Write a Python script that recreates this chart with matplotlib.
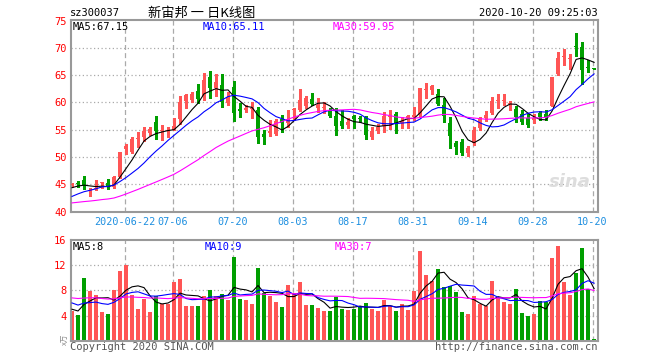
import numpy as np
import matplotlib
matplotlib.use("Agg")
import matplotlib.pyplot as plt

# daily K data for sz300037, 2020-06-09 .. 2020-10-20 (88 sessions)
opens = [44.9, 45.2, 45.8, 43.7, 44.2, 45.3, 45.3, 44.6, 46.4, 51.5,
         51.0, 53.3, 53.6, 54.4, 56.4, 54.7, 54.7, 55.0, 56.9, 60.3,
         60.5, 62.1, 61.1, 64.7, 62.6, 63.2, 59.9, 62.8, 58.8, 58.6,
         58.8, 58.7, 54.2, 54.4, 54.2, 57.0, 56.2, 58.6, 58.6, 59.4,
         60.6, 59.0, 58.9, 58.5, 57.5, 56.6, 55.9, 57.5, 57.2, 57.3,
         53.6, 54.7, 55.6, 57.3, 57.9, 56.2, 57.1, 57.3, 57.7, 62.2,
         62.3, 61.6, 59.5, 56.3, 52.5, 52.8, 50.8, 52.6, 55.3, 57.2,
         58.1, 60.2, 60.3, 59.7, 58.8, 57.8, 57.1, 56.7, 58.0, 57.9,
         59.4, 65.2, 68.3, 68.0, 70.4, 70.1, 66.4, 66.2]
highs = [45.3, 45.6, 46.5, 44.3, 45.8, 45.5, 45.9, 46.6, 51.0, 52.4,
         53.6, 54.6, 55.6, 55.5, 57.6, 55.9, 55.5, 57.1, 61.2, 61.6,
         62.0, 63.3, 65.4, 65.8, 65.3, 65.3, 62.0, 64.0, 59.9, 59.6,
         60.1, 59.2, 55.0, 56.8, 57.0, 57.7, 58.6, 58.9, 62.5, 61.2,
         61.7, 60.9, 60.0, 59.0, 59.0, 58.6, 57.1, 57.7, 57.6, 57.6,
         55.5, 56.0, 58.3, 58.6, 58.3, 57.3, 57.7, 59.1, 62.6, 63.5,
         63.2, 62.4, 60.8, 57.3, 52.9, 53.3, 52.0, 55.6, 57.3, 58.5,
         61.0, 61.5, 61.5, 60.3, 59.4, 58.6, 57.9, 57.9, 58.5, 58.7,
         64.7, 69.2, 69.7, 68.9, 72.8, 71.0, 67.8, 66.3]
lows = [44.5, 44.6, 44.1, 42.9, 43.9, 44.3, 44.2, 44.4, 46.2, 50.6,
        50.8, 51.8, 52.9, 54.0, 53.3, 53.1, 53.6, 54.9, 56.0, 58.9,
        60.0, 59.9, 60.5, 60.8, 61.1, 59.2, 59.6, 56.6, 57.3, 58.2,
        57.2, 52.6, 52.4, 53.9, 54.0, 54.6, 55.5, 56.7, 58.4, 59.0,
        59.5, 58.3, 58.0, 57.4, 54.1, 55.4, 55.3, 55.3, 56.4, 53.4,
        53.4, 54.5, 54.6, 55.1, 54.5, 55.4, 55.4, 56.7, 57.5, 60.8,
        61.5, 59.6, 56.4, 51.6, 50.6, 50.4, 50.2, 52.3, 55.0, 56.6,
        57.9, 59.0, 59.6, 58.7, 56.5, 56.0, 55.5, 56.2, 56.7, 56.8,
        59.3, 65.1, 66.8, 66.2, 68.5, 63.4, 65.5, 66.1]
closes = [45.0, 45.1, 44.8, 43.8, 44.3, 45.4, 44.6, 46.4, 51.0, 52.1,
          53.3, 53.5, 54.8, 55.2, 54.7, 54.8, 54.8, 55.6, 60.1, 61.4,
          61.6, 60.6, 64.2, 62.6, 63.7, 60.0, 61.0, 58.1, 58.4, 59.0,
          59.0, 53.7, 53.6, 54.7, 56.6, 56.2, 57.0, 58.8, 60.4, 60.8,
          59.7, 59.6, 59.1, 57.6, 55.7, 55.7, 56.5, 56.9, 57.0, 54.0,
          54.7, 55.5, 57.5, 57.5, 56.1, 56.6, 57.5, 57.7, 62.6, 62.4,
          63.0, 59.7, 57.5, 53.9, 51.9, 50.7, 51.7, 55.0, 56.9, 57.7,
          60.3, 60.3, 60.4, 59.9, 57.4, 56.5, 55.9, 57.2, 57.4, 57.1,
          64.6, 68.1, 68.4, 68.1, 70.2, 66.0, 66.3, 66.1]
vols = [4.75, 4.1, 10.0, 7.95, 7.3, 4.6, 4.3, 8.1, 11.1, 12.0,
        7.3, 5.07, 6.7, 4.6, 7.05, 5.8, 5.8, 9.4, 9.76, 5.55,
        5.45, 5.45, 7.15, 8.0, 7.15, 7.47, 6.4, 13.3, 6.7, 6.5,
        5.87, 11.5, 7.58, 7.05, 6.2, 5.3, 8.9, 7.63, 9.4, 5.6,
        5.6, 5.17, 4.75, 4.75, 6.9, 5.07, 4.9, 5.07, 5.55, 6.03,
        5.07, 4.75, 6.5, 5.55, 4.75, 5.87, 4.9, 7.95, 14.25, 10.5,
        9.55, 11.47, 8.6, 8.75, 7.8, 4.6, 4.27, 7.15, 5.87, 5.55,
        9.55, 6.83, 6.19, 5.87, 8.27, 4.43, 3.95, 4.27, 6.35, 6.19,
        13.07, 15.0, 9.39, 7.31, 10.83, 14.67, 8.27, 0.27]
# sessions before the window, only used to start the moving averages
hist_close = [41.5, 41.2, 40.8, 40.6, 41.0, 41.3, 41.0, 40.7, 40.4, 40.6,
              40.9, 41.2, 41.5, 41.3, 41.0, 40.8, 41.1, 41.3, 41.2, 40.9,
              40.5, 40.8, 41.2, 41.5, 42.0, 43.6, 44.0, 44.5, 44.9]
hist_vol = [7.0, 7.8, 6.5, 7.4, 8.2, 6.9, 7.1, 6.6, 7.5, 7.3,
            6.8, 7.6, 7.0, 6.4, 7.9, 7.2, 7.1, 6.9, 7.4, 7.4,
            7.5, 6.8, 7.2, 6.5, 7.0, 5.5, 4.8, 5.2, 4.75]
tick_idx = [9, 17, 27, 37, 47, 57, 67, 77, 87]
tick_lbl = ['2020-06-22', '07-06', '07-20', '08-03', '08-17', '08-31',
            '09-14', '09-28', '10-20']
# legend values as printed on the chart
price_ma_lbl = ['MA5:67.15', 'MA10:65.11', 'MA30:59.95']
vol_ma_lbl = ['MA5:8', 'MA10:9', 'MA30:7']

RED = '#ff5555'
GREEN = '#009f00'
GRID = '#aaaaaa'
MONO = 'DejaVu Sans Mono'
W, H = 660, 360


def ma(vals, hist, n):
    full = np.array(list(hist) + list(vals))
    return np.convolve(full, np.ones(n) / n, mode='valid')[-len(vals):]


def box(l, t, r, b):
    return [l / W, 1 - b / H, (r - l) / W, (b - t) / H]


o = np.array(opens); c = np.array(closes)
hi = np.array(highs); lo = np.array(lows); v = np.array(vols)
x = np.arange(len(c))
col = np.where(c >= o, RED, GREEN)

fig = plt.figure(figsize=(6.6, 3.6), dpi=100)
ax = fig.add_axes(box(70.7, 20, 597.7, 211.7))
axv = fig.add_axes(box(70.7, 240, 597.7, 340.7))

for a in (ax, axv):
    a.set_xlim(-0.22, 87.6)
    for s in a.spines.values():
        s.set_color('#999999'); s.set_linewidth(1.5)
    a.tick_params(length=0, pad=3)
    for t in tick_idx:
        a.axvline(t - 0.25, color=GRID, lw=0.9, ls=(0, (4, 2.5)), zorder=0)

# price panel
ax.set_ylim(40, 75.1)
for yv in range(45, 75, 5):
    ax.axhline(yv, color=GRID, lw=0.9, ls=(0, (1, 2)), zorder=0)
ax.vlines(x, lo, hi, colors=col, lw=0.9, antialiased=False, zorder=2)
ax.bar(x, np.maximum(np.abs(c - o), 0.2), 0.8, np.minimum(o, c),
       color=col, lw=0, antialiased=False, zorder=3)
ax.plot(x, ma(c, hist_close, 5), color='black', lw=0.8, zorder=4)
ax.plot(x, ma(c, hist_close, 10), color='blue', lw=0.8, zorder=4)
ax.plot(x, ma(c, hist_close, 30), color='magenta', lw=0.8, zorder=4)
ax.set_yticks(range(40, 80, 5))
ax.set_yticklabels([str(t) for t in range(40, 80, 5)], color='red',
                   family=MONO, fontsize=7.5)
ax.set_xticks([t - 0.25 for t in tick_idx])
ax.set_xticklabels(tick_lbl, color='#1e8fe0', family=MONO, fontsize=7.3)
ax.tick_params(axis='x', pad=4)

# volume panel
axv.set_ylim(0, 16)
for yv in (4, 8, 12):
    axv.axhline(yv, color=GRID, lw=0.9, ls=(0, (1, 2)), zorder=0)
axv.bar(x, v, 0.8, color=col, lw=0, antialiased=False, zorder=2)
axv.plot(x, ma(v, hist_vol, 5), color='black', lw=0.8, zorder=4)
axv.plot(x, ma(v, hist_vol, 10), color='blue', lw=0.8, zorder=4)
axv.plot(x, ma(v, hist_vol, 30), color='magenta', lw=0.8, zorder=4)
axv.set_yticks([4, 8, 12, 16])
axv.set_yticklabels(['4', '8', '12', '16'], color='red', family=MONO,
                    fontsize=7.5)
axv.set_xticks([])


def ftext(px, py, s, **kw):
    fig.text(px / W, 1 - py / H, s, va='center', **kw)


# header
ftext(70, 13, 'sz300037', family=MONO, fontsize=7.5, color='black')
ftext(148, 13, '新宙邦 一 日K线图', family=['Noto Sans CJK SC', 'DejaVu Sans'],
      fontsize=9.5, color='black')
ftext(598, 13, '2020-10-20 09:25:03', family=MONO, fontsize=7.5,
      color='black', ha='right')

# MA legends
for px, s, cc in zip((73, 203, 333), price_ma_lbl, ('black', 'blue', 'magenta')):
    ftext(px, 27, s, family=MONO, fontsize=7.5, color=cc)
for px, s, cc in zip((73, 205, 335), vol_ma_lbl, ('black', 'blue', 'magenta')):
    ftext(px, 247, s, family=MONO, fontsize=7.5, color=cc)

# footer
ftext(70, 347, 'Copyright 2020 SINA.COM', family=MONO, fontsize=7.5,
      color='#555555')
ftext(598, 347, 'http://finance.sina.com.cn', family=MONO, fontsize=7.5,
      color='#555555', ha='right')
ftext(62, 339, 'x万', family=['Noto Sans CJK SC', 'DejaVu Sans'],
      fontsize=5.5, color='#888888', rotation=90)
ftext(570, 182, 'sina', family='DejaVu Sans', fontsize=13,
      fontweight='bold', style='italic', color='#dddddd', ha='center')

fig.savefig('out.png', dpi=100)
